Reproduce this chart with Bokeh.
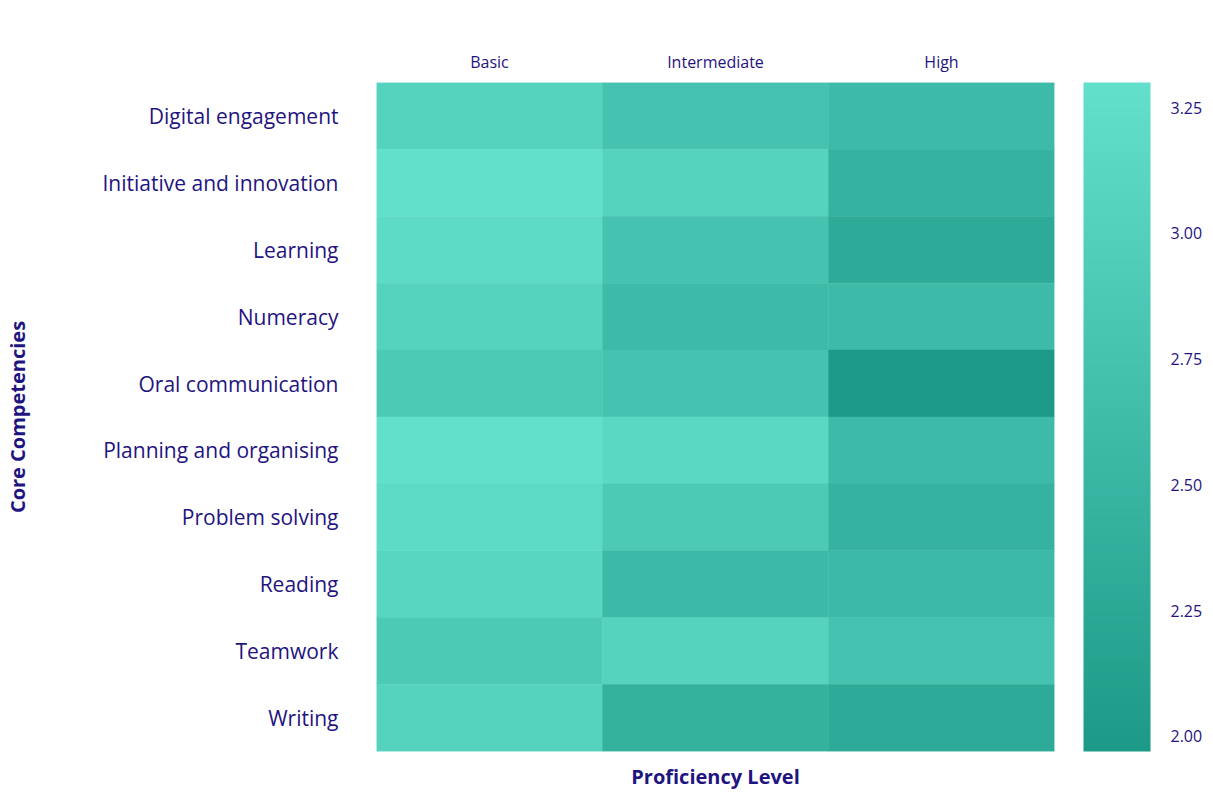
from bokeh.plotting import figure
from bokeh.models import ColumnDataSource, LinearColorMapper, ColorBar, FixedTicker, Title, NumeralTickFormatter
from bokeh.embed import file_html
from bokeh.resources import INLINE

competencies = ["Digital engagement", "Initiative and innovation", "Learning", "Numeracy",
                "Oral communication", "Planning and organising", "Problem solving",
                "Reading", "Teamwork", "Writing"]
levels = ["Basic", "Intermediate", "High"]
basic = [3.05, 3.30, 3.20, 3.05, 2.88, 3.30, 3.20, 3.10, 2.88, 3.05]
intermediate = [2.75, 3.05, 2.75, 2.60, 2.75, 3.15, 2.88, 2.58, 3.05, 2.42]
high = [2.60, 2.45, 2.30, 2.60, 1.97, 2.60, 2.45, 2.58, 2.75, 2.30]
cbar_ticks = [2.00, 2.25, 2.50, 2.75, 3.00, 3.25]

xs, ys, vs = [], [], []
for lvl, series in zip(levels, [basic, intermediate, high]):
    for comp, v in zip(competencies, series):
        xs.append(lvl)
        ys.append(comp)
        vs.append(v)
src = ColumnDataSource(dict(x=xs, y=ys, v=vs))

def hex2rgb(h):
    h = h.lstrip("#")
    return tuple(int(h[i:i + 2], 16) for i in (0, 2, 4))

c0 = hex2rgb("#1c9a87")
c1 = hex2rgb("#63e0cc")
palette = []
n = 256
for i in range(n):
    t = i / (n - 1)
    palette.append("#%02x%02x%02x" % tuple(round(a + (b - a) * t) for a, b in zip(c0, c1)))

vmin = min(basic + intermediate + high)
vmax = max(basic + intermediate + high)
mapper = LinearColorMapper(palette=palette, low=vmin, high=vmax)

TEXT = "#1f1480"
FONT = "Open Sans"

p = figure(width=1210, height=799, x_range=levels, y_range=list(reversed(competencies)),
           x_axis_location="above", output_backend="svg", toolbar_location=None,
           min_border_left=376, min_border_top=82, min_border_bottom=48, min_border_right=156)
p.rect(x="x", y="y", width=1, height=1, source=src,
       fill_color={"field": "v", "transform": mapper},
       line_color={"field": "v", "transform": mapper}, line_width=0.5)

p.outline_line_color = None
p.grid.grid_line_color = None
for ax in (p.xaxis[0], p.yaxis[0]):
    ax.axis_line_color = None
    ax.major_tick_line_color = None
    ax.minor_tick_line_color = None
    ax.major_label_text_color = TEXT
    ax.major_label_text_font = FONT
p.xaxis.major_label_text_font_size = "16px"
p.xaxis.major_label_standoff = 4
p.yaxis.major_label_text_font_size = "21px"
p.yaxis.major_label_standoff = 32
p.yaxis.axis_label = "Core Competencies"
p.yaxis.axis_label_text_font = FONT
p.yaxis.axis_label_text_font_size = "20px"
p.yaxis.axis_label_text_font_style = "bold"
p.yaxis.axis_label_text_color = TEXT
p.yaxis.axis_label_standoff = 68

p.add_layout(Title(text="Proficiency Level", align="center", text_font=FONT,
                   text_font_size="20px", text_font_style="bold", text_color=TEXT,
                   standoff=19), "below")

cb = ColorBar(color_mapper=mapper, ticker=FixedTicker(ticks=cbar_ticks),
              formatter=NumeralTickFormatter(format="0.00"),
              width=67, height=669, padding=0, margin=0, label_standoff=20,
              location=(678 + 29, 0),
              major_tick_line_color=None, bar_line_color=None,
              major_label_text_color=TEXT, major_label_text_font=FONT,
              major_label_text_font_size="16px", background_fill_color=None,
              border_line_color=None)
p.add_layout(cb, "center")

open("out.html", "w").write(file_html(p, INLINE))
